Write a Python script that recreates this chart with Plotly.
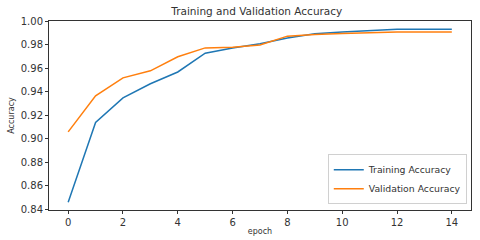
import plotly.graph_objects as go

epochs = list(range(15))
train_acc = [0.846, 0.914, 0.935, 0.947, 0.957, 0.973, 0.9775, 0.981, 0.986, 0.9895, 0.991, 0.992, 0.9933, 0.9934, 0.9934]
val_acc = [0.906, 0.9367, 0.952, 0.958, 0.970, 0.9775, 0.978, 0.980, 0.9875, 0.989, 0.9898, 0.9905, 0.991, 0.991, 0.991]
y_ticks = [0.84, 0.86, 0.88, 0.90, 0.92, 0.94, 0.96, 0.98, 1.00]
x_ticks = [0, 2, 4, 6, 8, 10, 12, 14]

FONT = "DejaVu Sans"
TXT = "#333333"

fig = go.Figure()
fig.add_trace(go.Scatter(x=epochs, y=train_acc, mode="lines", name="Training Accuracy",
                         line=dict(color="#1f77b4", width=1.5)))
fig.add_trace(go.Scatter(x=epochs, y=val_acc, mode="lines", name="Validation Accuracy",
                         line=dict(color="#ff7f0e", width=1.5)))

fig.update_layout(
    width=480, height=240,
    margin=dict(l=49, r=9, t=21, b=30),
    paper_bgcolor="white", plot_bgcolor="white",
    font=dict(family=FONT, size=10, color=TXT),
    title=dict(text="Training and Validation Accuracy", x=0.535, xanchor="center",
               y=0.951, yanchor="middle", font=dict(size=10.5, color=TXT)),
    showlegend=True,
    legend=dict(x=0.99, y=0.03, xanchor="right", yanchor="bottom",
                bgcolor="rgba(255,255,255,0.8)", bordercolor="#d0d0d0", borderwidth=1,
                font=dict(size=9.3, color=TXT), tracegroupgap=0, itemwidth=30),
)
fig.update_xaxes(range=[-0.7, 14.7], tickvals=x_ticks, ticks="outside", ticklen=3,
                 tickcolor="#333333", showline=True, linecolor="#333333", linewidth=1,
                 mirror=True, showgrid=False, zeroline=False, automargin=False,
                 title=dict(text="epoch", font=dict(size=8, color=TXT), standoff=1))
fig.update_yaxes(range=[0.8395, 1.0004], tickvals=y_ticks, tickformat=".2f", ticks="outside",
                 ticklen=3, tickcolor="#333333", showline=True, linecolor="#333333", linewidth=1,
                 mirror=True, showgrid=False, zeroline=False, automargin=False,
                 title=dict(text="Accuracy", font=dict(size=8, color=TXT), standoff=4))

fig.write_html("out.html", config={"displayModeBar": False},
               post_script="document.body.style.margin='0px';")
